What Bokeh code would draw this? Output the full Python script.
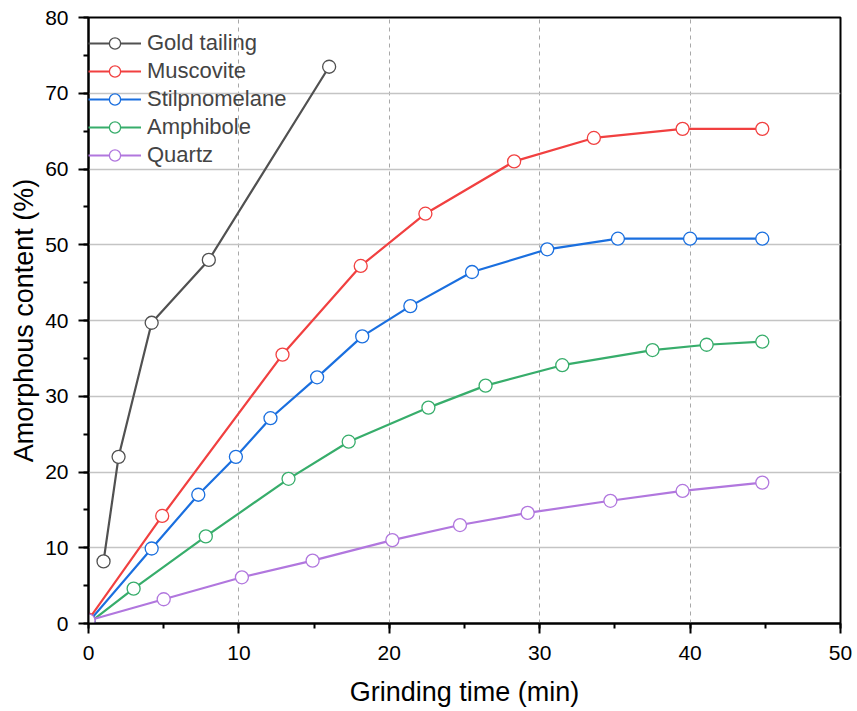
from bokeh.plotting import figure
from bokeh.models import Range1d, SingleIntervalTicker, Legend, LegendItem
from bokeh.embed import file_html
from bokeh.resources import INLINE

# ---- data ----
series_names = ["Gold tailing", "Muscovite", "Stilpnomelane", "Amphibole", "Quartz"]

gold_x = [1.0, 2.0, 4.2, 8.0, 16.0]
gold_y = [8.2, 22.0, 39.7, 48.0, 73.5]

muscovite_x = [0, 4.9, 12.9, 18.1, 22.4, 28.3, 33.6, 39.5, 44.8]
muscovite_y = [0.5, 14.2, 35.5, 47.2, 54.1, 61.0, 64.1, 65.3, 65.3]

stilp_x = [0, 4.2, 7.3, 9.8, 12.1, 15.2, 18.2, 21.4, 25.5, 30.5, 35.2, 40.0, 44.8]
stilp_y = [0.2, 9.9, 17.0, 22.0, 27.1, 32.5, 37.9, 41.9, 46.4, 49.4, 50.8, 50.8, 50.8]

amph_x = [0, 3.0, 7.8, 13.3, 17.3, 22.6, 26.4, 31.5, 37.5, 41.1, 44.8]
amph_y = [0.0, 4.6, 11.5, 19.1, 24.0, 28.5, 31.4, 34.1, 36.1, 36.8, 37.2]

quartz_x = [0, 5.0, 10.2, 14.9, 20.2, 24.7, 29.2, 34.7, 39.5, 44.8]
quartz_y = [0.4, 3.2, 6.1, 8.3, 11.0, 13.0, 14.6, 16.2, 17.5, 18.6]

colors = ["#515151", "#F14040", "#1A6FDF", "#37AD6B", "#B177DE"]

FONT = "Liberation Sans"

p = figure(width=857, height=711, output_backend="svg", toolbar_location=None,
           x_range=Range1d(0, 50), y_range=Range1d(0, 80),
           min_border_left=88, min_border_right=17, min_border_top=17, min_border_bottom=88)

p.outline_line_color = "black"
p.outline_line_width = 2
p.background_fill_color = "white"
p.border_fill_color = "white"

xt = SingleIntervalTicker(interval=10, num_minor_ticks=2)
yt = SingleIntervalTicker(interval=10, num_minor_ticks=2)
p.xaxis.ticker = xt
p.yaxis.ticker = yt
p.xgrid.ticker = xt
p.ygrid.ticker = yt

p.xgrid.grid_line_color = "#a8a8a8"
p.xgrid.grid_line_dash = "4 4"
p.xgrid.grid_line_width = 1
p.ygrid.grid_line_color = "#c4c4c4"
p.ygrid.grid_line_width = 1.3

for ax in (p.xaxis[0], p.yaxis[0]):
    ax.axis_line_width = 2
    ax.axis_line_color = "black"
    ax.major_tick_line_width = 2
    ax.minor_tick_line_width = 2
    ax.major_tick_out = 10
    ax.major_tick_in = 0
    ax.minor_tick_out = 5
    ax.minor_tick_in = 0
    ax.major_label_text_font = FONT
    ax.major_label_text_font_size = "21px"
    ax.major_label_text_color = "black"
    ax.axis_label_text_font = FONT
    ax.axis_label_text_font_size = "27px"
    ax.axis_label_text_font_style = "normal"
    ax.axis_label_text_color = "black"

p.xaxis.axis_label = "Grinding time (min)"
p.yaxis.axis_label = "Amorphous content (%)"
p.xaxis.major_label_standoff = 12
p.yaxis.major_label_standoff = 10
p.xaxis.axis_label_standoff = 14
p.yaxis.axis_label_standoff = 3

xs = [gold_x, muscovite_x, stilp_x, amph_x, quartz_x]
ys = [gold_y, muscovite_y, stilp_y, amph_y, quartz_y]

items = []
for name, x, y, c in zip(series_names, xs, ys, colors):
    r1 = p.line(x, y, line_color=c, line_width=2.2)
    r2 = p.scatter(x, y, marker="circle", size=13, fill_color="white",
                   line_color=c, line_width=1.3)
    items.append(LegendItem(label=name, renderers=[r1, r2]))

legend = Legend(items=items, location=(0, 454), padding=0, margin=0,
                spacing=0, glyph_width=53, glyph_height=28, label_height=28,
                label_standoff=6, border_line_color=None,
                background_fill_alpha=0.0,
                label_text_font=FONT, label_text_font_size="22px")
p.add_layout(legend)

open("out.html", "w").write(file_html(p, INLINE))
